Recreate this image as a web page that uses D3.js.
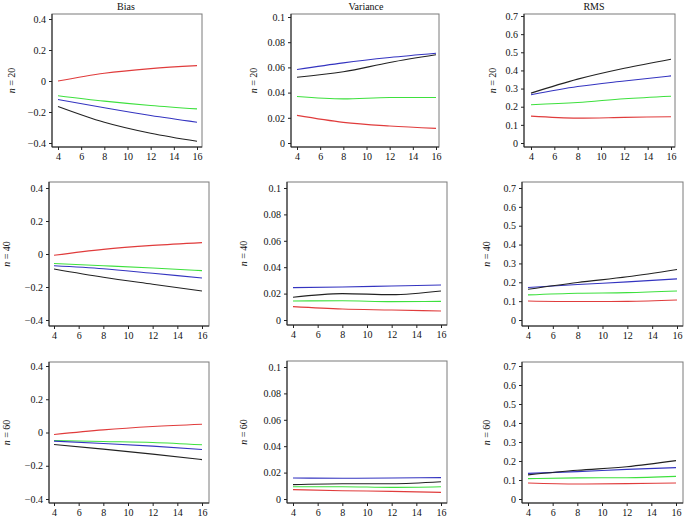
<!DOCTYPE html>
<html><head><meta charset="utf-8">
<script src="https://cdn.jsdelivr.net/npm/d3@7/dist/d3.min.js"></script>
<style>
body{margin:0;background:#fff;}
svg{display:block;font-family:"Liberation Serif","DejaVu Serif",serif;}
</style></head>
<body><svg id="c" width="685" height="521"></svg>
<script>
// ---- data ----
const xValues = [4, 8, 12, 16];
const xTicks = [4, 6, 8, 10, 12, 14, 16];
const columnTitles = ["Bias", "Variance", "RMS"];
const rowLabels = ["20", "40", "60"];
const seriesNames = ["red", "green", "blue", "black"];
const seriesColors = ["#e03c3c", "#3ee03e", "#3434c0", "#222222"];

const biasTicks = [-0.4, -0.2, 0, 0.2, 0.4];
const biasTickLabels = ["\u22120.4", "\u22120.2", "0", "0.2", "0.4"];
const varTicks = [0, 0.02, 0.04, 0.06, 0.08, 0.1];
const varTickLabels = ["0", "0.02", "0.04", "0.06", "0.08", "0.1"];
const rmsTicks = [0, 0.1, 0.2, 0.3, 0.4, 0.5, 0.6, 0.7];
const rmsTickLabels = ["0", "0.1", "0.2", "0.3", "0.4", "0.5", "0.6", "0.7"];

// n = 20
const bias20 = [[0, 0.05, 0.08, 0.099], [-0.095, -0.13, -0.158, -0.18], [-0.119, -0.173, -0.223, -0.266], [-0.164, -0.266, -0.337, -0.389]];
const var20 = [[0.0219, 0.0164, 0.0135, 0.0116], [0.0369, 0.0350, 0.0361, 0.0361], [0.0583, 0.0636, 0.0678, 0.0712], [0.0522, 0.0565, 0.0639, 0.0700]];
const rms20 = [[0.148, 0.137, 0.141, 0.145], [0.211, 0.223, 0.244, 0.258], [0.266, 0.311, 0.342, 0.370], [0.275, 0.352, 0.412, 0.462]];
// n = 40
const bias40 = [[-0.008, 0.028, 0.052, 0.069], [-0.058, -0.071, -0.085, -0.101], [-0.071, -0.089, -0.117, -0.145], [-0.091, -0.141, -0.183, -0.224]];
const var40 = [[0.0101, 0.0083, 0.0076, 0.0068], [0.0144, 0.0146, 0.0139, 0.0141], [0.0245, 0.0250, 0.0258, 0.0265], [0.0172, 0.0200, 0.0192, 0.0220]];
const rms40 = [[0.101, 0.098, 0.099, 0.106], [0.133, 0.142, 0.145, 0.154], [0.172, 0.188, 0.202, 0.218], [0.163, 0.199, 0.229, 0.268]];
// n = 60
const bias60 = [[-0.012, 0.016, 0.036, 0.05], [-0.048, -0.054, -0.060, -0.074], [-0.052, -0.066, -0.082, -0.102], [-0.072, -0.100, -0.130, -0.163]];
const var60 = [[0.0071, 0.0063, 0.0058, 0.0050], [0.0093, 0.0093, 0.0088, 0.0093], [0.0159, 0.0157, 0.0159, 0.0162], [0.0109, 0.0116, 0.0116, 0.0131]];
const rms60 = [[0.084, 0.079, 0.081, 0.084], [0.107, 0.111, 0.112, 0.119], [0.135, 0.144, 0.156, 0.165], [0.127, 0.151, 0.170, 0.202]];

const panelData = [[bias20, var20, rms20], [bias40, var40, rms40], [bias60, var60, rms60]];
const colTicks = [biasTicks, varTicks, rmsTicks];
const colTickLabels = [biasTickLabels, varTickLabels, rmsTickLabels];

// ---- layout (pixels) ----
const layout = [
  [{f:[52,14,202,147], xr:[58,197], yr:[19,143], lx:13}, {f:[291,14,439,147], xr:[297,436], yr:[17,143], lx:255}, {f:[524,14,675,147], xr:[531,671], yr:[16,143], lx:494}],
  [{f:[49,182,209,326], xr:[54,202], yr:[188,320], lx:8}, {f:[287,182,447,325], xr:[293,441], yr:[188,320], lx:245}, {f:[522,182,683,326], xr:[528,677], yr:[188,320], lx:488}],
  [{f:[49,362,209,503], xr:[54,202], yr:[366,499], lx:8}, {f:[287,361,447,503], xr:[293,441], yr:[367,499], lx:245}, {f:[522,362,683,503], xr:[528,676], yr:[366,499], lx:488}]
];
const titleX = [126, 366, 594];

const FONT = "'Liberation Serif', 'DejaVu Serif', serif";
const svg = d3.select("#c");
const fs = 10;

columnTitles.forEach((t, c) => {
  svg.append("text").attr("x", titleX[c]).attr("y", 10).attr("text-anchor", "middle")
    .attr("font-family", FONT).attr("font-size", fs).attr("fill", "#111").text(t);
});

panelData.forEach((rowData, r) => {
  rowData.forEach((series, c) => {
    const L = layout[r][c];
    const ticks = colTicks[c];
    const x = d3.scaleLinear().domain([4, 16]).range(L.xr);
    const y = d3.scaleLinear().domain([ticks[ticks.length - 1], ticks[0]]).range(L.yr);
    const g = svg.append("g");
    const [fl, ft, fr, fb] = L.f;

    g.append("rect").attr("x", fl).attr("y", ft).attr("width", fr - fl).attr("height", fb - ft)
      .attr("fill", "none").attr("stroke", "#7a7a7a").attr("stroke-width", 1);

    const ya = d3.axisLeft(y).tickValues(ticks).tickSize(3).tickPadding(3)
      .tickFormat((d, i) => colTickLabels[c][i]);
    const yg = g.append("g").attr("transform", `translate(${fl},0)`).call(ya)
      .attr("font-family", FONT).attr("font-size", fs);
    yg.select(".domain").attr("d", `M0,${ft}V${fb}`).attr("stroke", "#222");
    yg.selectAll(".tick line").attr("stroke", "#222");
    yg.selectAll("text").attr("fill", "#111");

    const xa = d3.axisBottom(x).tickValues(xTicks).tickSize(3).tickPadding(3).tickFormat(d3.format("d"));
    const xg = g.append("g").attr("transform", `translate(0,${fb})`).call(xa)
      .attr("font-family", FONT).attr("font-size", fs);
    xg.select(".domain").attr("d", `M${fl},0H${fr}`).attr("stroke", "#222");
    xg.selectAll(".tick line").attr("stroke", "#222");
    xg.selectAll("text").attr("fill", "#111");

    const ly = (ft + fb) / 2;
    const lt = g.append("text").attr("transform", `translate(${L.lx},${ly}) rotate(-90)`)
      .attr("text-anchor", "middle").attr("dominant-baseline", "middle")
      .attr("font-family", FONT).attr("font-size", fs).attr("fill", "#111");
    lt.append("tspan").attr("font-style", "italic").text("n");
    lt.append("tspan").text(" = " + rowLabels[r]);

    const line = d3.line().x((d, i) => x(xValues[i])).y(d => y(d)).curve(d3.curveMonotoneX);
    series.forEach((vals, s) => {
      g.append("path").attr("d", line(vals)).attr("fill", "none")
        .attr("stroke", seriesColors[s]).attr("stroke-width", 1.1);
    });
  });
});
</script></body></html>
